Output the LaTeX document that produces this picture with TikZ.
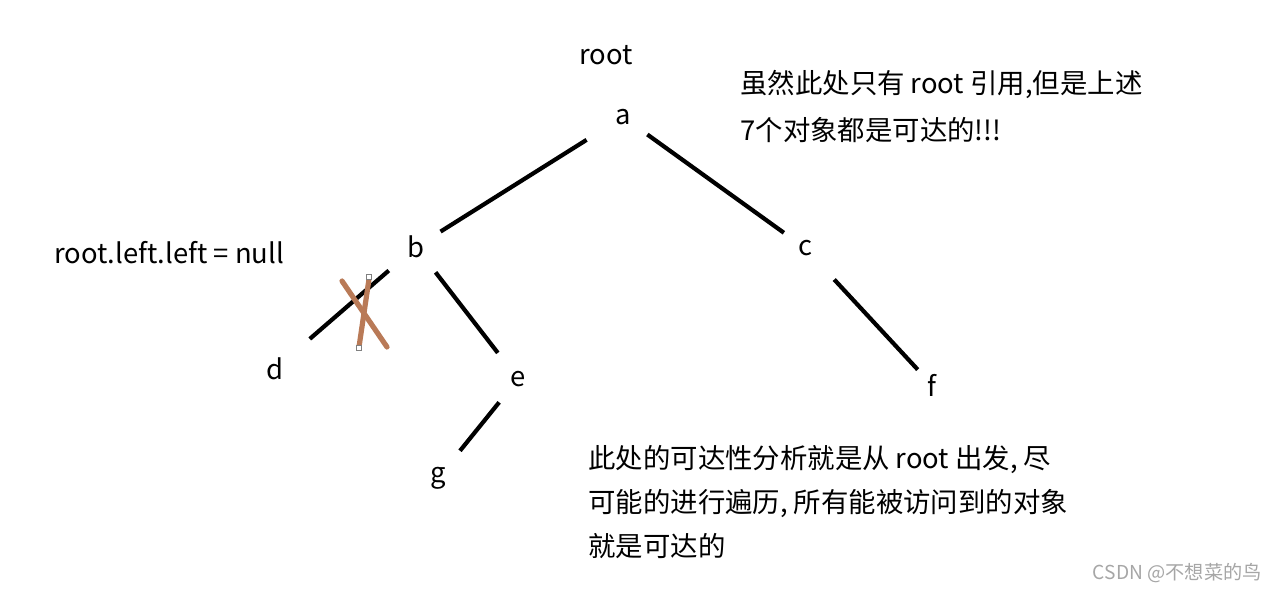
\documentclass[tikz,border=0pt]{standalone}
\usepackage{fontspec}
\setmainfont{Noto Sans CJK SC}
\definecolor{crossbrown}{HTML}{B97A57}
\begin{document}
\begin{tikzpicture}[x=0.5pt,y=-0.5pt,
    lbl/.style={font=\fontsize{13.7}{16}\selectfont, inner sep=0pt},
    edge/.style={line width=2.1pt},
    cross/.style={line width=2.6pt, color=crossbrown, line cap=round},
    note/.style={font=\fontsize{13.7}{23.5}\selectfont, align=left, anchor=north west, inner sep=0pt}]
    \useasboundingbox (0,0) rectangle (1278,592);

    % Tree nodes
    \node[lbl] (root) at (606,55) {root};
    \node[lbl] (a) at (623,117) {a};
    \node[lbl] (b) at (416,247) {b};
    \node[lbl] (c) at (805,248) {c};
    \node[lbl] (d) at (275,369) {d};
    \node[lbl] (e) at (518,379) {e};
    \node[lbl] (f) at (932,385) {f};
    \node[lbl] (g) at (438,478) {g};

    % References (gap at each end in pt)
    \foreach \u/\v/\su/\sv in {a/b/21.5/14.5, a/c/15/13, b/d/18/23,
                               b/e/16/16.5, c/f/21.5/10.5, e/g/15/17.5}{
        \draw[edge, shorten <=\su pt, shorten >=\sv pt] (\u.center) -- (\v.center);
    }

    % Cut reference b -- d
    \draw[cross] (342,281) -- (387,347);
    \draw[cross] (369,279) -- (359,347);
    \draw[gray, fill=white, line width=0.4pt] (366.5,274.5) rectangle (371.5,279.5);
    \draw[gray, fill=white, line width=0.4pt] (356.5,345.5) rectangle (361.5,350.5);

    % Notes
    \node[lbl, anchor=west] (nullset) at (54,253) {root.left.left = null};
    \node[note] (reach) at (740,70) {虽然此处只有 root 引用,但是上述\\7个对象都是可达的!!!};
    \node[note, font=\fontsize{13.7}{22}\selectfont] (explain) at (588,445) {此处的可达性分析就是从 root 出发, 尽\\可能的进行遍历, 所有能被访问到的对象\\就是可达的};
    \node[font=\fontsize{9.6}{11}\selectfont, text=gray!70, anchor=east, inner sep=0pt] (mark) at (1262,573) {CSDN @不想菜的鸟};
\end{tikzpicture}
\end{document}
